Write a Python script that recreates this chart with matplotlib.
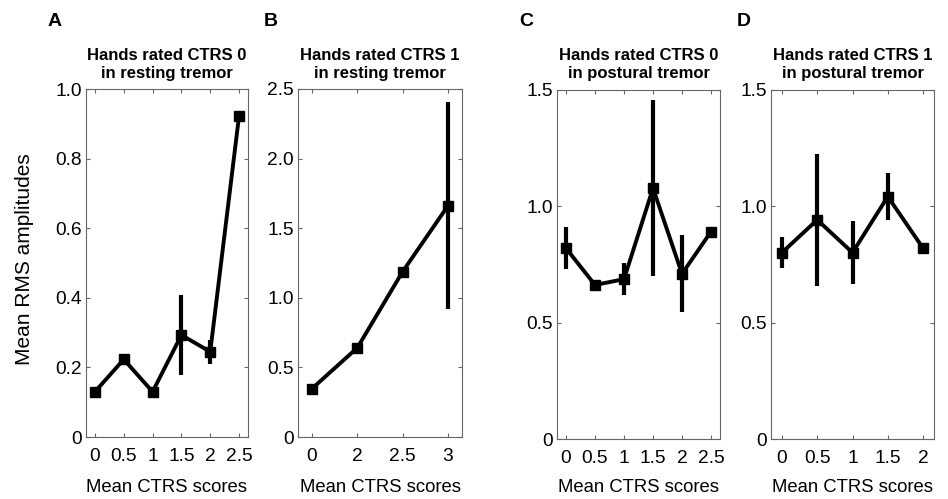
import matplotlib
matplotlib.use("Agg")
import matplotlib.pyplot as plt
import numpy as np

plt.rcParams['font.family'] = ['Liberation Sans', 'DejaVu Sans']

# ---- data ----
labels_A = ['0', '0.5', '1', '1.5', '2', '2.5']
mean_A = [0.13, 0.223, 0.13, 0.293, 0.245, 0.923]
err_A = [0, 0, 0, 0.115, 0.035, 0]

labels_B = ['0', '2', '2.5', '3']
mean_B = [0.348, 0.641, 1.188, 1.661]
err_B = [0, 0, 0, 0.745]

labels_C = ['0', '0.5', '1', '1.5', '2', '2.5']
mean_C = [0.82, 0.662, 0.687, 1.078, 0.71, 0.891]
err_C = [0.09, 0, 0.068, 0.378, 0.165, 0]

labels_D = ['0', '0.5', '1', '1.5', '2']
mean_D = [0.801, 0.942, 0.801, 1.042, 0.82]
err_D = [0.068, 0.283, 0.134, 0.1, 0]

titles = ['Hands rated CTRS 0\nin resting tremor',
          'Hands rated CTRS 1\nin resting tremor',
          'Hands rated CTRS 0\nin postural tremor',
          'Hands rated CTRS 1\nin postural tremor']
letters = ['A', 'B', 'C', 'D']
yticks_A = [0, 0.2, 0.4, 0.6, 0.8, 1.0]
ytl_A = ['0', '0.2', '0.4', '0.6', '0.8', '1.0']
yticks_B = [0, 0.5, 1.0, 1.5, 2.0, 2.5]
ytl_B = ['0', '0.5', '1.0', '1.5', '2.0', '2.5']
yticks_CD = [0, 0.5, 1.0, 1.5]
ytl_CD = ['0', '0.5', '1.0', '1.5']

W, H = 948, 499
fig = plt.figure(figsize=(W / 100, H / 100), dpi=100)

# pixel boxes: left, right, top, bottom
boxes = [(86, 248, 89, 437), (298, 462, 89, 437), (557, 720, 90, 439), (771, 934, 90, 439)]
letter_pos = [(55, 21), (271, 21), (526, 21), (744, 21)]

panels = [
    (labels_A, mean_A, err_A, yticks_A, ytl_A, 1.0),
    (labels_B, mean_B, err_B, yticks_B, ytl_B, 2.5),
    (labels_C, mean_C, err_C, yticks_CD, ytl_CD, 1.5),
    (labels_D, mean_D, err_D, yticks_CD, ytl_CD, 1.5),
]

spine_col = '#666666'
for i, ((labs, m, e, yt, ytl, ymax), (l, r, t, b)) in enumerate(zip(panels, boxes)):
    ax = fig.add_axes([l / W, (H - b) / H, (r - l) / W, (b - t) / H])
    x = np.arange(1, len(labs) + 1)
    ax.errorbar(x, m, yerr=e, color='black', lw=2.8, elinewidth=3.0, capsize=0,
                marker='s', markersize=7.5, mfc='black', mec='black')
    ax.set_xlim(0.69, len(labs) + 0.31)
    ax.set_ylim(0, ymax)
    ax.set_xticks(x)
    ax.set_xticklabels(labs)
    ax.set_yticks(yt)
    ax.set_yticklabels(ytl)
    ax.tick_params(axis='both', direction='in', length=3, width=0.8, color=spine_col,
                   top=True, right=True, labelsize=13.8, labelcolor='black')
    ax.tick_params(axis='x', pad=8)
    ax.tick_params(axis='y', pad=3)
    for s in ax.spines.values():
        s.set_color(spine_col)
        s.set_linewidth(0.8)
    cx = (l + r) / 2
    fig.text(cx / W, 1 - 64.5 / H, titles[i], ha='center', va='center',
             fontsize=12, fontweight='bold', linespacing=1.17)
    fig.text(cx / W, 1 - 487 / H, 'Mean CTRS scores', ha='center', va='center',
             fontsize=13.3)
    lx, ly = letter_pos[i]
    fig.text(lx / W, 1 - ly / H, letters[i], ha='center', va='center',
             fontsize=14, fontweight='bold')

fig.text(25 / W, 1 - 259 / H, 'Mean RMS amplitudes', rotation=90, ha='center',
         va='center', fontsize=15)

fig.savefig('out.png', dpi=100)
